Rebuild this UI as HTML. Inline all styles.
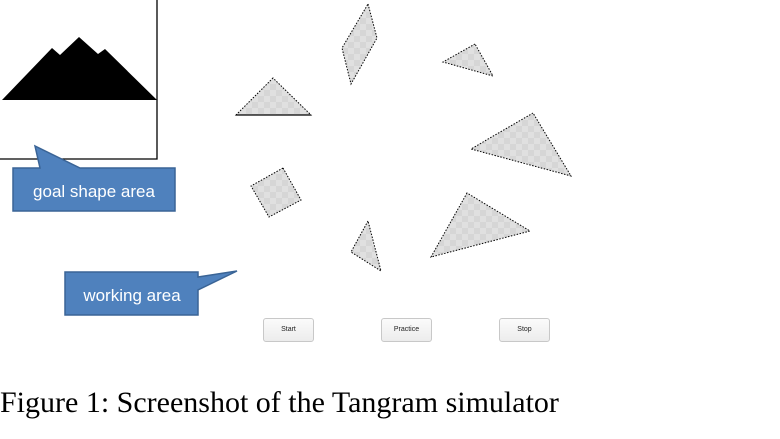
<!DOCTYPE html>
<html><head><meta charset="utf-8"><style>
body{margin:0;width:780px;height:439px;background:#fff;overflow:hidden;position:relative;font-family:"Liberation Sans",sans-serif}
.btn{position:absolute;top:318px;width:49px;height:22px;border:1px solid #c8c8c8;border-radius:3px;background:linear-gradient(#fbfbfb,#ececec);font-size:7px;line-height:22px;text-align:center;color:#222}
.cap{position:absolute;left:0;top:386px;font-family:"Liberation Serif",serif;font-size:30px;line-height:34px;color:#000;white-space:nowrap}
</style></head><body>
<svg width="780" height="439" style="position:absolute;left:0;top:0">
<defs><pattern id="chk" width="12" height="12" patternUnits="userSpaceOnUse"><rect width="12" height="12" fill="#d6d6d6"/><rect width="6" height="6" fill="#e0e0e0"/><rect x="6" y="6" width="6" height="6" fill="#e0e0e0"/></pattern></defs>
<g>
<polyline points="157,0 157,159 0,159" fill="none" stroke="#000" stroke-width="1.3"/>
<polygon points="2,100 52,48 60,55 79,37 98,54 105,49 157,100" fill="#000"/>
</g>
<g fill="url(#chk)" stroke="#000" stroke-width="1" stroke-dasharray="1.5,1.5">
<polygon points="368,4 377,38 351,84 342,48"/>
<polygon points="475,44 443,62 493,76"/>
<polygon points="273,78 236,115 311,115"/>
<polygon points="533,113 471,149 571,176"/>
<polygon points="283,168 251,186 269,217 301,200"/>
<polygon points="368,221 351,252 381,271"/>
<polygon points="467,193 431,257 530,231"/>
</g>
<line x1="236" y1="115" x2="311" y2="115" stroke="#000" stroke-width="1.2"/>
<g>
<path d="M13,168 L40,168 L35,146 L80,168 L175,168 L175,211 L13,211 Z" fill="#4f81bd" stroke="#3a6496" stroke-width="1.5"/>
<text x="94" y="197" fill="#fff" font-size="17" text-anchor="middle" font-family="Liberation Sans,sans-serif">goal shape area</text>
</g>
<g>
<path d="M65,272 L198,272 L198,277 L237,271 L198,290 L198,315 L65,315 Z" fill="#4f81bd" stroke="#3a6496" stroke-width="1.5"/>
<text x="132" y="301" fill="#fff" font-size="17" text-anchor="middle" font-family="Liberation Sans,sans-serif">working area</text>
</g>
</svg>
<div class="btn" style="left:263px">Start</div>
<div class="btn" style="left:381px">Practice</div>
<div class="btn" style="left:499px">Stop</div>
<div class="cap">Figure 1: Screenshot of the Tangram simulator</div>
</body></html>
